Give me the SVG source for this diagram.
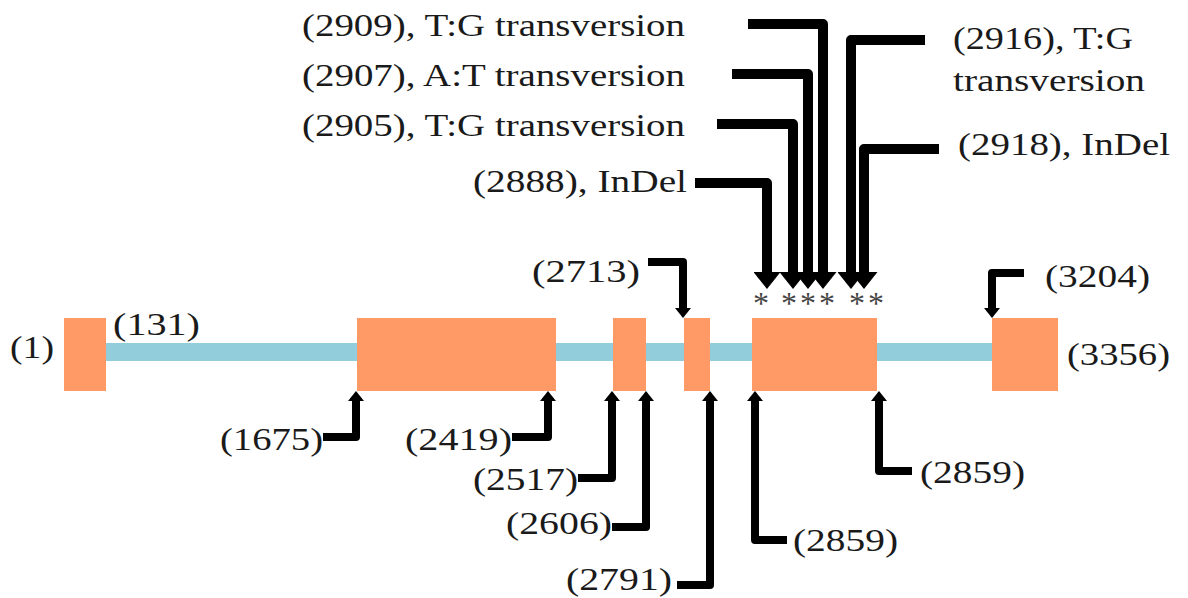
<svg xmlns="http://www.w3.org/2000/svg" width="1188" height="598" viewBox="0 0 1188 598">
<style>
  .exon { fill: #FF9966; }
  .intron { fill: #92CDDC; }
  .lbl { font-family: "Liberation Serif", "Times New Roman", serif; font-size: 32px; fill: #1a1a1a; }
  .star { font-family: "Liberation Serif", "Times New Roman", serif; font-size: 32px; fill: #444; text-anchor: middle; }
  .big { fill: none; stroke: #000; stroke-width: 10; stroke-linejoin: round; }
  .small { fill: none; stroke: #000; stroke-width: 8; stroke-linejoin: round; }
</style>
<defs>
  <marker id="ahBig" markerUnits="userSpaceOnUse" viewBox="0 -13.5 17 27" refX="0" refY="0" markerWidth="17" markerHeight="27" orient="auto">
    <path d="M0,-13.5 L17,0 L0,13.5 Z" fill="#000"/>
  </marker>
  <marker id="ahSmall" markerUnits="userSpaceOnUse" viewBox="0 -8 10 16" refX="0" refY="0" markerWidth="10" markerHeight="16" orient="auto">
    <path d="M0,-8 L10,0 L0,8 Z" fill="#000"/>
  </marker>
</defs>
<rect width="1188" height="598" fill="#fff"/>

<g id="intron">
  <rect class="intron" x="106" y="343" width="886" height="18"/>
</g>

<g id="exon1">
  <rect class="exon" x="64" y="318" width="42" height="73"/>
  <text class="lbl" x="10" y="358" textLength="44" lengthAdjust="spacingAndGlyphs">(1)</text>
  <text class="lbl" x="113" y="335" textLength="87" lengthAdjust="spacingAndGlyphs">(131)</text>
</g>
<g id="exon2">
  <rect class="exon" x="357" y="318" width="199" height="73"/>
  <text class="lbl" x="220" y="450" textLength="103" lengthAdjust="spacingAndGlyphs">(1675)</text>
  <text class="lbl" x="405" y="450" textLength="107" lengthAdjust="spacingAndGlyphs">(2419)</text>
</g>
<g id="exon3">
  <rect class="exon" x="613" y="318" width="33" height="73"/>
  <text class="lbl" x="473" y="490" textLength="105" lengthAdjust="spacingAndGlyphs">(2517)</text>
  <text class="lbl" x="506" y="534" textLength="106" lengthAdjust="spacingAndGlyphs">(2606)</text>
</g>
<g id="exon4">
  <rect class="exon" x="684" y="318" width="26" height="73"/>
  <text class="lbl" x="532" y="282" textLength="108" lengthAdjust="spacingAndGlyphs">(2713)</text>
  <text class="lbl" x="566" y="590" textLength="106" lengthAdjust="spacingAndGlyphs">(2791)</text>
</g>
<g id="exon5">
  <rect class="exon" x="752" y="318" width="125" height="73"/>
  <text class="lbl" x="793" y="551" textLength="105" lengthAdjust="spacingAndGlyphs">(2859)</text>
  <text class="lbl" x="920" y="483" textLength="105" lengthAdjust="spacingAndGlyphs">(2859)</text>
  <text class="star" x="761" y="314">*</text>
  <text class="star" x="789" y="314">*</text>
  <text class="star" x="808" y="314">*</text>
  <text class="star" x="827" y="314">*</text>
  <text class="star" x="857" y="314">*</text>
  <text class="star" x="876" y="314">*</text>
</g>
<g id="exon6">
  <rect class="exon" x="992" y="318" width="66" height="73"/>
  <text class="lbl" x="1045" y="287" textLength="105" lengthAdjust="spacingAndGlyphs">(3204)</text>
  <text class="lbl" x="1067" y="365" textLength="103" lengthAdjust="spacingAndGlyphs">(3356)</text>
</g>

<g id="variants">
  <text class="lbl" x="302" y="36" textLength="383" lengthAdjust="spacingAndGlyphs">(2909), T:G transversion</text>
  <text class="lbl" x="302" y="86" textLength="383" lengthAdjust="spacingAndGlyphs">(2907), A:T transversion</text>
  <text class="lbl" x="302" y="136" textLength="383" lengthAdjust="spacingAndGlyphs">(2905), T:G transversion</text>
  <text class="lbl" x="473" y="192" textLength="214" lengthAdjust="spacingAndGlyphs">(2888), InDel</text>
  <text class="lbl" x="953" y="49" textLength="180" lengthAdjust="spacingAndGlyphs">(2916), T:G</text>
  <text class="lbl" x="953" y="91" textLength="192" lengthAdjust="spacingAndGlyphs">transversion</text>
  <text class="lbl" x="958" y="155" textLength="212" lengthAdjust="spacingAndGlyphs">(2918), InDel</text>
</g>

<g id="connectors">
  <path class="big" d="M695,183 H767 V272" marker-end="url(#ahBig)"/>
  <path class="big" d="M717,124 H793 V272" marker-end="url(#ahBig)"/>
  <path class="big" d="M732,74 H808 V272" marker-end="url(#ahBig)"/>
  <path class="big" d="M748,24 H823 V272" marker-end="url(#ahBig)"/>
  <path class="big" d="M925,40 H851 V272" marker-end="url(#ahBig)"/>
  <path class="big" d="M939,149 H864 V272" marker-end="url(#ahBig)"/>
  <path class="small" d="M648,262 H683 V308" marker-end="url(#ahSmall)"/>
  <path class="small" d="M1024,273 H992 V308" marker-end="url(#ahSmall)"/>
  <path class="small" d="M323,437 H356 V401" marker-end="url(#ahSmall)"/>
  <path class="small" d="M512,437 H548 V401" marker-end="url(#ahSmall)"/>
  <path class="small" d="M578,478 H612 V401" marker-end="url(#ahSmall)"/>
  <path class="small" d="M612,527 H646 V401" marker-end="url(#ahSmall)"/>
  <path class="small" d="M677,585 H710 V401" marker-end="url(#ahSmall)"/>
  <path class="small" d="M787,540 H755 V401" marker-end="url(#ahSmall)"/>
  <path class="small" d="M912,471 H879 V401" marker-end="url(#ahSmall)"/>
</g>
</svg>
